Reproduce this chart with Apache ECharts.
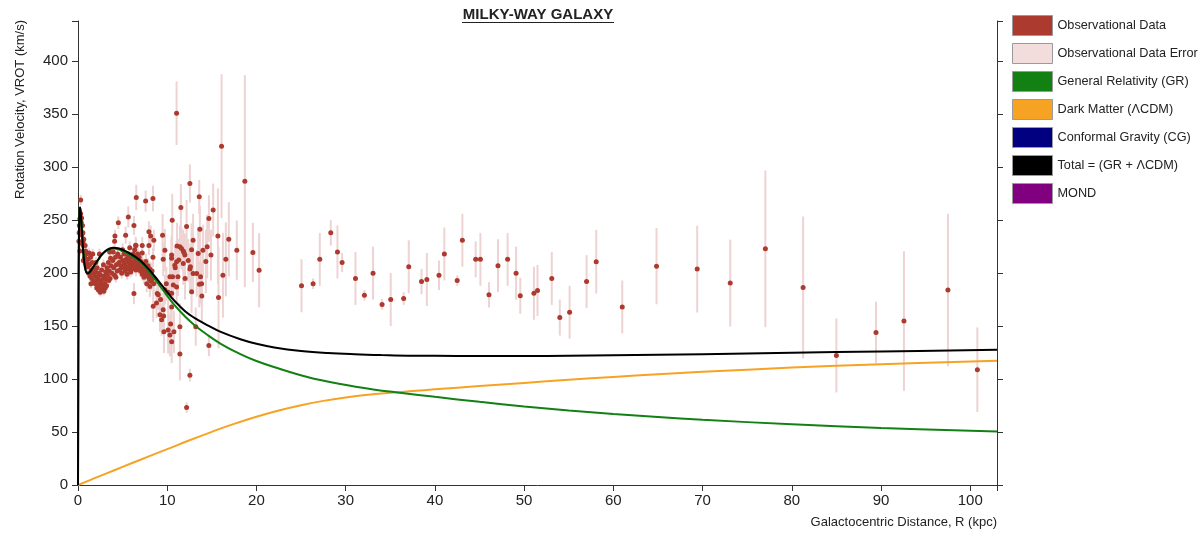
<!DOCTYPE html>
<html>
<head>
<meta charset="utf-8">
<title>Milky-Way Galaxy rotation curve</title>
<script src="https://cdn.jsdelivr.net/npm/echarts@6/dist/echarts.min.js"></script>
<style>
  html, body { margin: 0; padding: 0; background: #fff; }
  #chart { width: 1202px; height: 533px; }
</style>
</head>
<body>
<div id="chart"></div>
<script>
// Observations as [R (kpc), VROT (km/s), error (km/s)]
// Inner disk (R < 8.5 kpc)
const innerObs = [
  [0.1,230,6],[0.15,245,5],[0.2,251,6],[0.25,240,5],[0.3,269,5],[0.3,256,5],[0.35,248,6],[0.4,236,5],
  [0.45,228,5],[0.5,245,6],[0.55,238,5],[0.6,226,5],[0.65,232,6],[0.7,220,5],[0.75,215,4],[0.8,226,5],
  [0.85,221,5],[0.9,212,4],[0.95,218,5],[1.0,209,4],[0.2,221,5],[0.4,252,5],[0.55,229,4],[0.12,238,6],[0.6,212,4],
  [1.1,206,4],[1.15,213,4],[1.2,200,4],[1.3,208,4],[1.35,197,4],[1.4,215,5],[1.5,203,4],[1.55,195,4],
  [1.6,210,4],[1.7,200,4],[1.75,192,4],[1.8,205,4],[1.9,197,4],[1.95,190,4],[2.0,201,4],[1.25,219,5],
  [1.65,218,5],[1.45,190,4],
  [2.05,193,4],[2.1,186,4],[2.2,196,4],[2.25,189,4],[2.3,184,4],[2.4,193,4],[2.45,187,4],[2.5,182,4],
  [2.55,198,4],[2.6,190,4],[2.7,185,4],[2.75,194,4],[2.8,188,4],[2.9,183,4],[2.95,197,4],[3.0,190,4],
  [3.05,186,4],[3.1,201,4],[3.15,194,4],[2.35,200,4],[2.65,203,4],[2.0,210,5],[2.4,218,5],[2.15,205,4],
  [2.85,208,5],[3.2,188,4],
  [3.25,205,4],[3.3,198,4],[3.4,210,4],[3.5,202,4],[3.6,195,4],[3.65,214,4],[3.7,207,4],[3.8,200,4],
  [3.9,212,4],[4.0,205,4],[4.1,198,5],[4.2,215,4],[4.3,208,4],[4.4,202,4],[4.45,218,5],[3.55,220,5],
  [4.14,235,6],[4.52,247.5,6],[3.45,193,4],[3.95,220,5],[4.25,196,5],[4.1,230,6],
  [4.6,210,5],[4.7,203,5],[4.75,215,5],[4.8,207,5],[4.9,200,5],[5.0,212,5],[5.1,205,5],[5.15,218,5],
  [5.2,209,5],[5.3,202,5],[5.4,213,5],[5.45,206,5],[5.5,199,5],[5.6,216,5],[5.65,210,5],[5.7,204,5],
  [5.8,212,5],[5.85,207,5],[5.9,201,5],[6.0,215,6],[6.05,209,6],[6.1,204,6],[6.2,218,6],[6.25,211,6],
  [6.3,206,6],[6.35,222,6],[6.4,215,6],[6.45,210,6],[6.5,226,7],[6.5,203,6],[6.55,213,6],[6.6,207,6],
  [6.7,218,6],[6.75,211,6],[6.8,205,6],[6.85,215,6],[6.9,209,6],[7.0,202,6],[5.34,235.8,8],[5.64,253,10],
  [6.27,245,9],[6.46,226.4,8],[6.27,180.7,10],[5.0,222,6],[5.8,224,6],[6.53,271.4,12],
  [7.05,211,6],[7.1,205,6],[7.2,199,6],[7.3,208,6],[7.35,202,6],[7.4,196,6],[7.5,206,7],[7.55,200,7],
  [7.6,211,7],[7.7,203,7],[7.8,197,7],[7.85,207,7],[7.9,201,7],[8.0,194,7],[8.05,204,7],[8.1,198,7],
  [8.2,192,7],[8.3,202,8],[8.4,196,8],[8.5,190,8],[7.2,219,8],[7.95,226,9],[7.58,268,10],[8.4,270.4,12],
  [7.95,239,10],[8.14,235,10],[8.5,231,10],[8.4,215,9],[7.7,190,8],[7.2,226,8]
];
// Solar neighbourhood and beyond (8.5 - 21 kpc)
const midObs = [
  [8.43,168.8,15],[8.8,171.7,14],[8.88,180.7,15],[9.0,179.6,14],[9.18,160.8,16],[9.37,155.9,15],
  [9.55,165.4,16],[9.6,159.6,18],[9.63,144.6,20],[10.1,146.2,22],[10.3,141.5,20],[10.5,135.2,20],
  [10.38,152,18],[10.5,168,18],[10.75,144.6,20],[9.74,184.3,14],[10.1,182,14],[10.5,181.1,15],
  [8.06,187.4,10],[8.25,193.7,10],[9.74,221.7,20],[9.48,235.8,20],[9.55,213,16],[10.49,217,18],
  [10.49,214,18],[10.3,196.5,16],[10.56,250,25],[10.68,188.7,16],[11.05,187,16],[11.05,210.8,20],
  [11.1,225.5,22],[11.2,196.5,18],[11.42,225,20],[11.42,149.5,22],[11.42,123.6,25],[11.53,262,22],
  [11.6,223.3,20],[11.8,221,20],[11.87,219.5,18],[11.98,217,20],[12.17,244,25],[12.17,73.2,5],
  [12.35,212,20],[12.54,284.6,18],[12.54,103.7,6],[12.6,206,22],[12.73,222,25],[12.73,182.4,20],
  [12.9,231,25],[12.9,199.7,20],[13.2,149.5,18],[13.3,199.7,22],[13.47,218.5,25],[13.59,272,16],
  [13.6,189.6,22],[13.66,241.5,22],[13.74,196.5,25],[13.88,178.3,25],[14.33,211,30],[14.48,225,30],
  [14.67,251.6,22],[14.67,131.6,10],[15.15,259.5,25],[15.68,235,45],[15.75,177,48],[16.09,319.8,68],
  [16.24,198,40],[16.57,213,35],[16.9,232,35],[17.8,221.7,28],[18.7,286.8,100],[19.6,219.5,28],
  [20.3,202.7,35],[11.05,351,30],[9.26,175,16],[9.9,190,16],[10.9,205,18],[12.0,195,20],
  [11.3,212.3,20],[10.85,207.5,18],[10.6,196.5,18],[11.8,209,20],[12.54,204,20],[13.85,190,20],
  [14.0,221.7,24],[14.9,217,24]
];
// Outer halo tracers (R > 21 kpc)
const outerObs = [
  [25.05,188,25],[26.35,190,5],[27.1,213,25],[28.33,238,12],[29.08,220,25],[29.6,210,9],[31.1,195,25],
  [32.1,179,5],[33.07,200,25],[34.08,170.5,5],[35.05,175,25],[36.5,176,6],[37.07,206,25],[38.5,192,12],
  [39.1,194,25],[40.46,198,14],[41.06,218,25],[42.5,193,5],[43.08,231,25],[44.57,213,17],[45.1,213,25],
  [46.06,179.5,12],[47.07,207,25],[48.15,213,25],[49.1,200,25],[49.57,178.6,17],[51.1,181,25],
  [51.5,183.7,24],[53.1,195,25],[54.0,158,17],[55.1,163,25],[57.0,192,25],[58.08,210.7,30],[61.0,168,25],
  [64.84,206.6,36],[69.4,203.8,41],[73.1,190.6,41],[77.04,223,74],[81.27,186.5,67],[85.0,122.3,35],
  [89.44,144,29],[92.57,154.7,66],[97.5,184,72],[100.8,108.8,40]
];

// Model curves as [R (kpc), V (km/s)]
const grCurve = [
  [0,0],[0.03,100],[0.06,180],[0.1,230],[0.15,255],[0.22,262],[0.3,258],[0.4,245],[0.55,225],[0.7,210],
  [0.85,203],[1.0,200],[1.15,200],[1.4,202],[1.8,207],[2.2,211.5],[2.6,216.5],[3.0,220],[3.5,222.3],
  [4.0,223.3],[4.5,222.5],[5.0,220.8],[5.5,218.6],[6.0,216.2],[6.5,213.5],[7.0,210.3],[7.5,205.9],[8.0,201],
  [8.5,195.5],[9.0,190],[9.5,184.4],[10.0,178.6],[10.75,170.5],[12.0,159],[13.0,151.3],[14.48,141.8],
  [16.0,133.3],[18.2,123.5],[20.0,117],[21.95,111.4],[25.7,102],[29.4,95.3],[33.1,90.2],[36.3,86.9],
  [40,83.2],[45,78.5],[50,74.2],[55,70.4],[60,67.1],[65,64.2],[70,61.6],[80,57.3],[90,53.7],[103,50.4]
];
const darkMatterCurve = [
  [0,0],[2,6.9],[4,13.7],[6,20.5],[8,27.2],[10,33.8],[12.5,42.2],[15,50.2],[17.5,57.7],[20,64.4],
  [22.5,70.3],[25,75.3],[27.5,79.4],[30,82.6],[32.5,85.1],[35,87],[37.5,88.7],[40,90.3],[45,93.4],
  [50,96.4],[55,99.3],[60,102],[65,104.5],[70,106.8],[80,110.8],[90,114.1],[103,117.3]
];
const totalCurve = [
  [0,0],[0.03,100],[0.06,180],[0.1,230],[0.15,255],[0.22,262],[0.3,258],[0.4,245],[0.55,225],[0.7,210],
  [0.85,203],[1.0,200],[1.15,200],[1.4,202],[1.8,207],[2.2,212],[2.6,217],[3.0,220.5],[3.5,223],
  [4.0,224],[4.5,223.5],[5.0,222],[5.5,220],[6.0,217.8],[6.5,215],[7.0,211.8],[7.5,207.6],[8.0,203],
  [8.5,198],[9.0,192.8],[9.5,187.5],[10.0,182],[10.75,174.5],[12.0,164],[13.0,158],[14.48,151],
  [16.0,144.5],[18.2,137.6],[20.0,133.3],[22,129.9],[25,126.6],[28,124.6],[31,123.4],[34,122.6],
  [37,122.1],[40,121.9],[45,121.7],[50,121.8],[55,122],[60,122.4],[65,122.9],[70,123.5],[80,124.8],
  [90,126.1],[103,127.6]
];

// Axis ticks
const xTickStep = 10;
const yTickStep = 50;

const FONT = '"Liberation Sans", Arial, Helvetica, sans-serif';
const AXIS_COLOR = '#333';
const TEXT_COLOR = '#222';

const COLORS = {
  obs: '#ad3a2e',
  err: '#f2dcdc',
  errBar: '#eed3d3',
  gr: '#138013',
  dm: '#f6a323',
  cg: '#000080',
  total: '#000000',
  mond: '#800080'
};

const allObs = innerObs.concat(midObs, outerObs);
const pointData = allObs.map(d => [d[0], d[1]]);
const errorData = allObs.map(d => [d[0], d[1] - d[2], d[1] + d[2]]);

const chart = echarts.init(document.getElementById('chart'), null, { renderer: 'canvas' });

const valueAxisBase = {
  type: 'value',
  splitLine: { show: false },
  axisLine: { show: true, onZero: false, lineStyle: { color: AXIS_COLOR, width: 1 } },
  axisTick: { show: true, length: 6, lineStyle: { color: AXIS_COLOR, width: 1 } }
};

const legendSwatch = (name, color) => ({
  name,
  itemStyle: { color, opacity: 1, borderColor: '#9a9a9a', borderWidth: 1 }
});

const curveSeries = (name, data, color, z) => ({
  name,
  type: 'line',
  data,
  showSymbol: false,
  smooth: 0.4,
  color,
  lineStyle: { color, width: 2 },
  z
});

const option = {
  animation: false,
  backgroundColor: '#fff',
  textStyle: { fontFamily: FONT },
  grid: { left: 78, right: 205, top: 21, bottom: 48, outerBoundsMode: 'none' },
  xAxis: Object.assign({}, valueAxisBase, {
    min: 0, max: 103, interval: xTickStep,
    axisLabel: {
      fontSize: 15, color: TEXT_COLOR, fontFamily: FONT, margin: 8,
      formatter: v => (v % xTickStep === 0 ? String(v) : '')
    }
  }),
  yAxis: [
    Object.assign({}, valueAxisBase, {
      position: 'left', min: 0, max: 438, interval: yTickStep,
      axisLabel: {
        fontSize: 15, color: TEXT_COLOR, fontFamily: FONT, margin: 10,
        formatter: v => (v % yTickStep === 0 ? String(v) : '')
      }
    }),
    Object.assign({}, valueAxisBase, {
      position: 'right', min: 0, max: 438, interval: yTickStep,
      axisLabel: { show: false }
    })
  ],
  legend: {
    orient: 'vertical',
    left: 1012, top: 15,
    padding: 0,
    itemWidth: 40, itemHeight: 20, itemGap: 7,
    icon: 'rect',
    selectedMode: false,
    textStyle: { fontSize: 12.7, color: TEXT_COLOR, fontFamily: FONT },
    data: [
      legendSwatch('Observational Data', COLORS.obs),
      legendSwatch('Observational Data Error', COLORS.err),
      legendSwatch('General Relativity (GR)', COLORS.gr),
      legendSwatch('Dark Matter (ΛCDM)', COLORS.dm),
      legendSwatch('Conformal Gravity (CG)', COLORS.cg),
      legendSwatch('Total = (GR + ΛCDM)', COLORS.total),
      legendSwatch('MOND', COLORS.mond)
    ]
  },
  graphic: [
    {
      type: 'text', x: 538, y: 15,
      style: { text: 'MILKY-WAY GALAXY', font: 'bold 15px ' + FONT, fill: TEXT_COLOR,
               textAlign: 'center', textVerticalAlign: 'middle' }
    },
    {
      type: 'line', shape: { x1: 462, y1: 22.5, x2: 614, y2: 22.5 },
      style: { stroke: TEXT_COLOR, lineWidth: 1 }
    },
    {
      type: 'text', x: 20, y: 20, rotation: Math.PI / 2,
      style: { text: 'Rotation Velocity, VROT (km/s)', font: '13px ' + FONT, fill: TEXT_COLOR,
               textAlign: 'right', textVerticalAlign: 'middle' }
    },
    {
      type: 'text', x: 997, y: 522,
      style: { text: 'Galactocentric Distance, R (kpc)', font: '13px ' + FONT, fill: TEXT_COLOR,
               textAlign: 'right', textVerticalAlign: 'middle' }
    }
  ],
  series: [
    {
      name: 'Observational Data Error',
      type: 'custom',
      color: COLORS.err,
      data: errorData,
      encode: { x: 0, y: [1, 2] },
      z: 1,
      renderItem: (params, api) => {
        const p1 = api.coord([api.value(0), api.value(1)]);
        const p2 = api.coord([api.value(0), api.value(2)]);
        return {
          type: 'line',
          shape: { x1: p1[0], y1: p1[1], x2: p2[0], y2: p2[1] },
          style: { stroke: COLORS.errBar, lineWidth: 2 }
        };
      }
    },
    {
      name: 'Observational Data',
      type: 'scatter',
      data: pointData,
      symbol: 'circle',
      symbolSize: 5,
      itemStyle: { color: COLORS.obs, opacity: 1 },
      z: 2
    },
    curveSeries('Dark Matter (ΛCDM)', darkMatterCurve, COLORS.dm, 3),
    curveSeries('General Relativity (GR)', grCurve, COLORS.gr, 4),
    { name: 'Conformal Gravity (CG)', type: 'line', data: [], color: COLORS.cg },
    curveSeries('Total = (GR + ΛCDM)', totalCurve, COLORS.total, 5),
    { name: 'MOND', type: 'line', data: [], color: COLORS.mond }
  ]
};

chart.setOption(option);
</script>
</body>
</html>
